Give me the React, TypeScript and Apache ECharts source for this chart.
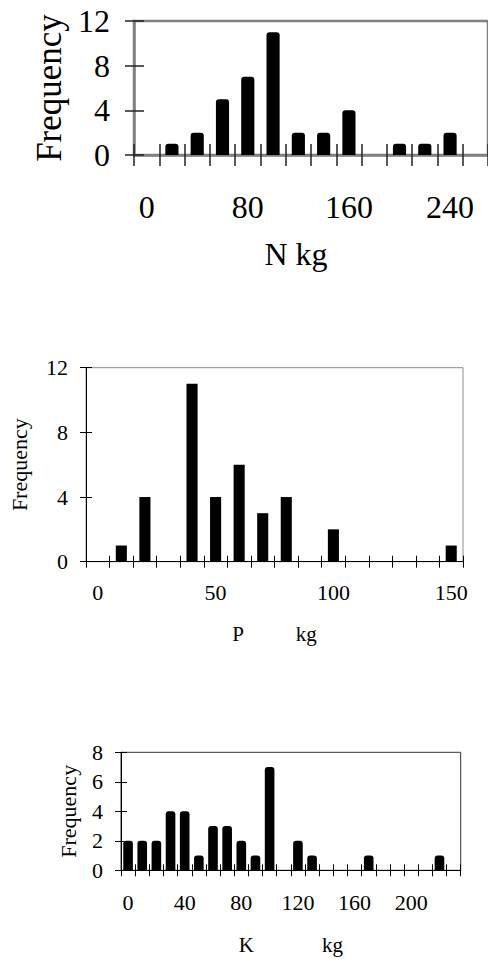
import React, { useEffect, useRef } from "react";
import * as echarts from "echarts";

// ---- Data ----
const nCategories = ["0", "20", "40", "60", "80", "100", "120", "140", "160", "180", "200", "220", "240", "260"];
const nFrequency = [0, 1, 2, 5, 7, 11, 2, 2, 4, 0, 1, 1, 2, 0];

const pCategories = ["0", "10", "20", "30", "40", "50", "60", "70", "80", "90", "100", "110", "120", "130", "140", "150"];
const pFrequency = [0, 1, 4, 0, 11, 4, 6, 3, 4, 0, 2, 0, 0, 0, 0, 1];

const kCategories = ["0", "10", "20", "30", "40", "50", "60", "70", "80", "90", "100", "110", "120", "130", "140", "150", "160", "170", "180", "190", "200", "210", "220", "230"];
const kFrequency = [2, 2, 2, 4, 4, 1, 3, 3, 2, 1, 7, 0, 2, 1, 0, 0, 0, 1, 0, 0, 0, 0, 1, 0];

const nYAxis = { max: 12, interval: 4 };
const pYAxis = { max: 12, interval: 4 };
const kYAxis = { max: 8, interval: 2 };

const FONT = '"Liberation Serif", "Times New Roman", serif';

export default function App() {
  const ref = useRef<HTMLDivElement>(null);

  useEffect(() => {
    if (!ref.current) return;
    const chart = echarts.init(ref.current, undefined, { renderer: "svg" });

    const panels = [
      {
        grid: { left: 134, top: 21, width: 356, height: 134 },
        cats: nCategories,
        data: nFrequency,
        y: nYAxis,
        labelInterval: 3,
        xName: "N kg",
        xNamePad: [0, 30, 0, 0],
        fontSize: 32,
        nameSize: 32,
        yNameSize: 35,
        xLabelMargin: 36,
        yLabelMargin: 24,
        xNameGap: 83,
        yNameGap: 65,
        lineColor: "#808080",
        lineWidth: 2.5,
        borderColor: "#808080",
        borderWidth: 2.5,
        tickColor: "#222",
        tickWidth: 1.5,
        xTickOut: 11,
        xTickIn: 11,
        yTickOut: 9,
        yTickIn: 10,
        barGap: "48%",
        radius: [3, 3, 0, 0],
      },
      {
        grid: { left: 85, top: 367.7, width: 378, height: 194 },
        cats: pCategories,
        data: pFrequency,
        y: pYAxis,
        labelInterval: 4,
        xName: "P          kg",
        xNamePad: [0, 0, 0, 0],
        fontSize: 22,
        nameSize: 21,
        yNameSize: 22,
        xLabelMargin: 20,
        yLabelMargin: 18,
        xNameGap: 62,
        yNameGap: 56,
        lineColor: "#000",
        lineWidth: 1,
        borderColor: "#8c8c8c",
        borderWidth: 1,
        tickColor: "#000",
        tickWidth: 1,
        xTickOut: 6,
        xTickIn: 6,
        yTickOut: 6,
        yTickIn: 6,
        barGap: "53%",
        radius: [0, 0, 0, 0],
      },
      {
        grid: { left: 121, top: 752.3, width: 339.7, height: 118 },
        cats: kCategories,
        data: kFrequency,
        y: kYAxis,
        labelInterval: 3,
        xName: "K             kg",
        xNamePad: [0, 0, 0, 0],
        fontSize: 22,
        nameSize: 21,
        yNameSize: 22,
        xLabelMargin: 21,
        yLabelMargin: 18,
        xNameGap: 64,
        yNameGap: 42,
        lineColor: "#000",
        lineWidth: 1,
        borderColor: "#333",
        borderWidth: 1,
        tickColor: "#000",
        tickWidth: 1,
        xTickOut: 6,
        xTickIn: 6,
        yTickOut: 6,
        yTickIn: 6,
        barGap: "32%",
        radius: [3, 3, 0, 0],
      },
    ];

    const grids: any[] = [];
    const xAxes: any[] = [];
    const yAxes: any[] = [];
    const series: any[] = [];

    panels.forEach((p, i) => {
      grids.push({
        ...p.grid,
        show: true,
        borderColor: p.borderColor,
        borderWidth: p.borderWidth,
        backgroundColor: "transparent",
        containLabel: false,
      });
      // main x axis (outer ticks + labels)
      xAxes.push({
        type: "category",
        gridIndex: i,
        data: p.cats,
        position: "bottom",
        boundaryGap: true,
        axisLine: { show: true, lineStyle: { color: p.lineColor, width: p.lineWidth } },
        axisTick: { show: true, interval: 0, length: p.xTickOut, alignWithLabel: false, lineStyle: { color: p.tickColor, width: p.tickWidth } },
        axisLabel: { interval: p.labelInterval, color: "#000", fontFamily: FONT, fontSize: p.fontSize, margin: p.xLabelMargin },
        splitLine: { show: false },
        name: p.xName,
        nameLocation: "middle",
        nameGap: p.xNameGap,
        nameTextStyle: { color: "#000", fontFamily: FONT, fontSize: p.nameSize, padding: p.xNamePad },
      });
      // inner ticks x axis
      xAxes.push({
        type: "category",
        gridIndex: i,
        data: p.cats,
        position: "bottom",
        boundaryGap: true,
        axisLine: { show: false },
        axisTick: { show: true, inside: true, interval: 0, length: p.xTickIn, lineStyle: { color: p.tickColor, width: p.tickWidth } },
        axisLabel: { show: false },
        splitLine: { show: false },
      });
      yAxes.push({
        type: "value",
        gridIndex: i,
        min: 0,
        max: p.y.max,
        interval: p.y.interval,
        position: "left",
        axisLine: { show: true, lineStyle: { color: p.lineColor, width: p.lineWidth } },
        axisTick: { show: true, length: p.yTickOut, lineStyle: { color: p.tickColor, width: p.tickWidth } },
        axisLabel: { color: "#000", fontFamily: FONT, fontSize: p.fontSize, margin: p.yLabelMargin },
        splitLine: { show: false },
        name: "Frequency",
        nameLocation: "middle",
        nameGap: p.yNameGap,
        nameTextStyle: { color: "#000", fontFamily: FONT, fontSize: p.yNameSize },
      });
      yAxes.push({
        type: "value",
        gridIndex: i,
        min: 0,
        max: p.y.max,
        interval: p.y.interval,
        position: "left",
        axisLine: { show: false },
        axisTick: { show: true, inside: true, length: p.yTickIn, lineStyle: { color: p.tickColor, width: p.tickWidth } },
        axisLabel: { show: false },
        splitLine: { show: false },
      });
      series.push({
        type: "bar",
        xAxisIndex: i * 2,
        yAxisIndex: i * 2,
        data: p.data,
        barCategoryGap: p.barGap,
        itemStyle: { color: "#000", borderRadius: p.radius },
        z: 1,
      });
    });

    chart.setOption({
      animation: false,
      backgroundColor: "#fff",
      grid: grids,
      xAxis: xAxes,
      yAxis: yAxes,
      series,
    });

    return () => chart.dispose();
  }, []);

  return (
    <div
      ref={ref}
      style={{ position: "absolute", left: 0, top: 0, width: 488, height: 959 }}
    />
  );
}
